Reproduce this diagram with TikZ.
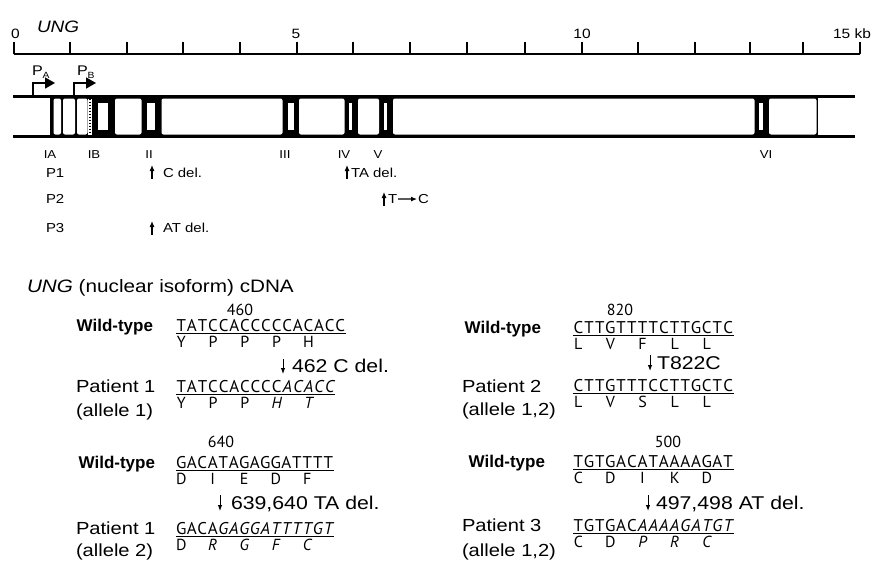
\documentclass[tikz,border=0pt]{standalone}
\usepackage{fontspec}
\setmainfont{Liberation Sans}
\newfontfamily\lab{Liberation Sans}[FakeStretch=1.15]
\newfontfamily\seqf{PT Sans}
\usetikzlibrary{arrows.meta}
\newlength\lw
\def\seqrun#1{\ifx#1\relax\else\makebox[\lw][c]{#1}\expandafter\seqrun\fi}
\tikzset{
  every node/.style={inner sep=0pt, outer sep=0pt},
  toplab/.style={font=\lab\fontsize{13}{13}\selectfont, anchor=base west},
  exlab/.style={font=\lab\fontsize{11.5}{11.5}\selectfont, anchor=base},
  scalelab/.style={font=\lab\fontsize{13.5}{13.5}\selectfont, anchor=base},
  wtlab/.style={font=\bfseries\fontsize{17}{17}\selectfont, anchor=base east},
  ptlab/.style={font=\lab\fontsize{17.5}{17.5}\selectfont, anchor=base west},
  mutlab/.style={font=\lab\fontsize{18.5}{18.5}\selectfont, anchor=base west},
  seqL/.style={font=\seqf\fontsize{17}{17}\selectfont, anchor=base west},
  aaL/.style={font=\seqf\fontsize{16}{16}\selectfont, anchor=base},
  numlab/.style={font=\seqf\fontsize{16}{16}\selectfont, anchor=base},
  uparr/.style={-{Latex[length=6pt,width=5pt]}, line width=1.1pt},
  dnarr/.style={-{Latex[length=6pt,width=4.5pt]}, line width=1pt},
  promarr/.style={-{Triangle[length=10pt,width=11pt]}, line width=1.6pt},
  exonw/.style={fill=white, rounded corners=2pt},
}
\newcommand\seqblock[7]{%
  \node[seqL] (#1) at (#2,#3) {\setlength\lw{#4pt}\seqrun #5\relax{\itshape\seqrun #6\relax}};
  \draw[line width=1.1pt] ([yshift=-2.5pt]#1.base west) -- ([yshift=-2.5pt]#1.base east);
  \foreach \a [count=\k from 0] in {#7}
    \node[aaL] (#1-aa\k) at ({#2+#4/2+3*#4*\k}, #3+16) {\a};
}
\begin{document}
\begin{tikzpicture}[x=1pt, y=-1pt]
\useasboundingbox (0,0) rectangle (874,562);
% ---------- scale bar
\node[anchor=base west, font=\lab\itshape\fontsize{16.5}{16.5}\selectfont] (ung) at (37,32) {UNG};
\draw[line width=2pt] (14,53.5) -- (860,53.5);
\foreach \x in {14,70,127,183,240,297,353,410,467,525,582,638,695,750,803,860}
  \draw[line width=1.6pt] (\x,54) -- (\x,41.5);
\node[scalelab] (s0) at (15.5,38) {0};
\node[scalelab] (s5) at (296,38.5) {5};
\node[scalelab] (s10) at (582,38.5) {10};
\node[scalelab, anchor=base west] (s15) at (833,38.5) {15 kb};
% ---------- gene
\fill[black] (49.5,96.5) rectangle (817.5,136.5);
\foreach \a/\b in {53.5/61, 63/75, 77/87.5, 115/141.5, 161.5/282.5, 299/344.5, 358/379, 393/754.5, 769/816.5}
  \fill[exonw] (\a,98.5) rectangle (\b,134.5);
\foreach \a/\b in {98/108, 147/155, 288/294, 349/352, 384/387, 759/763}
  \fill[white] (\a,103) rectangle (\b,130);
\fill[white] (88,98.5) rectangle (91.5,134.5);
\draw[line width=1.8pt, dash pattern=on 1.5pt off 1.5pt] (89.8,98.5) -- (89.8,134.5);
\draw[line width=2.5pt] (13,96.5) -- (855,96.5);
\draw[line width=2.5pt] (13,136.5) -- (855,136.5);
% promoters
\coordinate (pa0) at (33,96);
\coordinate (pa1) at (55,83);
\coordinate (pb0) at (74,96);
\coordinate (pb1) at (96,83);
\draw[promarr] (pa0) |- (pa1);
\draw[promarr] (pb0) |- (pb1);
\node[anchor=base west, font=\lab\fontsize{14}{14}\selectfont] (PA) at (32,75) {P\raisebox{-3pt}{\fontsize{9}{9}\selectfont A}};
\node[anchor=base west, font=\lab\fontsize{14}{14}\selectfont] (PB) at (77,75) {P\raisebox{-3pt}{\fontsize{9}{9}\selectfont B}};
% exon labels
\node[exlab] (eIA) at (50,158) {IA};
\node[exlab] (eIB) at (94,158) {IB};
\node[exlab] (eII) at (149,158) {II};
\node[exlab] (eIII) at (285,158) {III};
\node[exlab] (eIV) at (344,158) {IV};
\node[exlab] (eV) at (378,158) {V};
\node[exlab] (eVI) at (766,158) {VI};
% patients
\node[toplab] (P1) at (46,177) {P1};
\node[toplab] (P2) at (46,203.5) {P2};
\node[toplab] (P3) at (46,232) {P3};
\coordinate (u1a) at (152,178.5); \coordinate (u1b) at (152,165);
\draw[uparr] (u1a) -- (u1b);
\node[toplab] (c1) at (163,177) {C del.};
\coordinate (u2a) at (347,178.5); \coordinate (u2b) at (347,165);
\draw[uparr] (u2a) -- (u2b);
\node[toplab] (c2) at (351,177) {TA del.};
\coordinate (u3a) at (384,205.5); \coordinate (u3b) at (384,192);
\draw[uparr] (u3a) -- (u3b);
\node[toplab] (t3) at (388,203.5) {T};
\node[toplab] (t3c) at (418,203.5) {C};
\draw[uparr] ([xshift=1pt]t3.east) -- ([xshift=-1pt]t3c.west);
\coordinate (u4a) at (152,234.5); \coordinate (u4b) at (152,221);
\draw[uparr] (u4a) -- (u4b);
\node[toplab] (c4) at (163,232) {AT del.};
% ---------- cDNA
\node[anchor=base west, font=\lab\fontsize{18}{18}\selectfont] (title) at (27,292) {\textit{UNG} (nuclear isoform) cDNA};
% left top block
\node[numlab] (n460) at (240,315) {460};
\node[wtlab] (wt1) at (153,331) {Wild-type};
\seqblock{s1}{176}{331}{10.6}{TATCCACCCCCACACC}{}{Y,P,P,P,H}
\coordinate (m1a) at (283,359); \coordinate (m1b) at (283,374);
\draw[dnarr] (m1a) -- (m1b);
\node[mutlab] (m1) at (292,372) {462 C del.};
\node[ptlab] (pt1) at (76,392) {Patient 1};
\node[ptlab] (al1) at (76,416) {(allele 1)};
\seqblock{s2}{176}{392}{10.6}{TATCCACCCC}{ACACC}{Y,P,P,{\itshape H},{\itshape T}}
% left bottom block
\node[numlab] (n640) at (221,447) {640};
\node[wtlab] (wt2) at (155,468) {Wild-type};
\seqblock{s3}{176}{468}{10.5}{GACATAGAGGATTTT}{}{D,I,E,D,F}
\coordinate (m2a) at (220,495); \coordinate (m2b) at (220,511);
\draw[dnarr] (m2a) -- (m2b);
\node[mutlab] (m2) at (231,509) {639,640 TA del.};
\node[ptlab] (pt2) at (76,534) {Patient 1};
\node[ptlab] (al2) at (76,556) {(allele 2)};
\seqblock{s4}{176}{534}{10.5}{GACA}{GAGGATTTTGT}{D,{\itshape R},{\itshape G},{\itshape F},{\itshape C}}
% right top block
\node[numlab] (n820) at (620,315) {820};
\node[wtlab] (wt3) at (541,333) {Wild-type};
\seqblock{s5}{573}{333}{10.7}{CTTGTTTTCTTGCTC}{}{L,V,F,L,L}
\coordinate (m3a) at (650,355); \coordinate (m3b) at (650,371);
\draw[dnarr] (m3a) -- (m3b);
\node[mutlab] (m3) at (657,369) {T822C};
\node[ptlab] (pt3) at (462,392) {Patient 2};
\node[ptlab] (al3) at (462,415) {(allele 1,2)};
\seqblock{s6}{573}{391}{10.7}{CTTGTTTCCTTGCTC}{}{L,V,S,L,L}
% right bottom block
\node[numlab] (n500) at (668,447) {500};
\node[wtlab] (wt4) at (545,467) {Wild-type};
\seqblock{s7}{573}{467}{10.7}{TGTGACATAAAAGAT}{}{C,D,I,K,D}
\coordinate (m4a) at (648,495); \coordinate (m4b) at (648,511);
\draw[dnarr] (m4a) -- (m4b);
\node[mutlab] (m4) at (656,509) {497,498 AT del.};
\node[ptlab] (pt4) at (462,531) {Patient 3};
\node[ptlab] (al4) at (462,556) {(allele 1,2)};
\seqblock{s8}{573}{531}{10.7}{TGTGAC}{AAAAGATGT}{C,D,{\itshape P},{\itshape R},{\itshape C}}
\end{tikzpicture}
\end{document}
